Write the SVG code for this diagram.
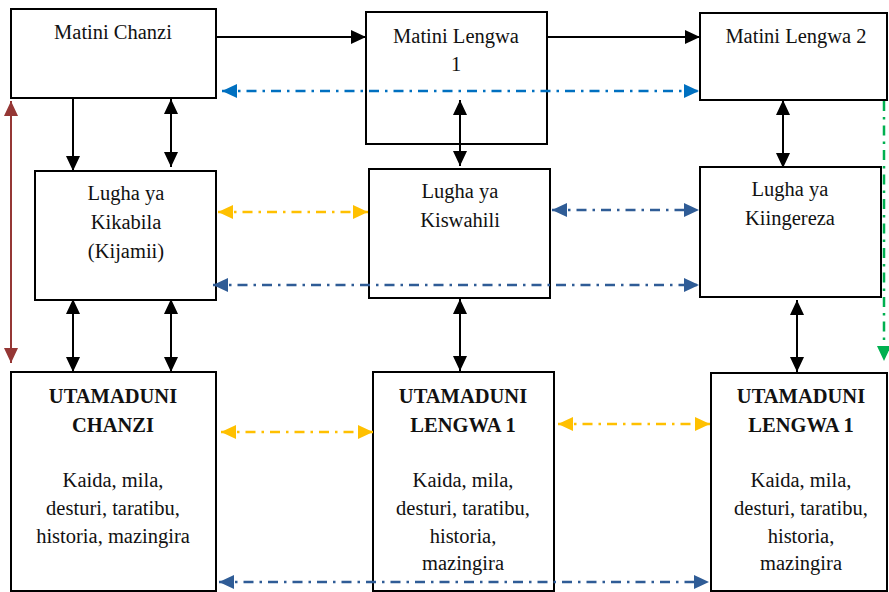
<svg xmlns="http://www.w3.org/2000/svg" width="889" height="592" viewBox="0 0 889 592" font-family="Liberation Serif, Times New Roman, serif">
<style>
.box{fill:#fff;stroke:#000;stroke-width:2}
text{font-size:20.5px;fill:#111;text-anchor:middle}
.b{font-weight:bold}
.k{fill:none;stroke:#000;stroke-width:2}
.dd{fill:none;stroke-width:2.5;stroke-dasharray:10 6 2.5 6}
</style>
<defs>
<marker id="mk" markerUnits="userSpaceOnUse" markerWidth="15" markerHeight="14" refX="15" refY="7" orient="auto-start-reverse"><path d="M0,0L15,7L0,14z" fill="#000"/></marker>
<marker id="mr" markerUnits="userSpaceOnUse" markerWidth="15" markerHeight="14" refX="15" refY="7" orient="auto-start-reverse"><path d="M0,0L15,7L0,14z" fill="#953735"/></marker>
<marker id="mg" markerUnits="userSpaceOnUse" markerWidth="15" markerHeight="14" refX="15" refY="7" orient="auto-start-reverse"><path d="M0,0L15,7L0,14z" fill="#00B050"/></marker>
<marker id="my" markerUnits="userSpaceOnUse" markerWidth="15" markerHeight="14" refX="15" refY="7" orient="auto-start-reverse"><path d="M0,0L15,7L0,14z" fill="#FFC000"/></marker>
<marker id="mb1" markerUnits="userSpaceOnUse" markerWidth="15" markerHeight="14" refX="15" refY="7" orient="auto-start-reverse"><path d="M0,0L15,7L0,14z" fill="#0070C0"/></marker>
<marker id="mb2" markerUnits="userSpaceOnUse" markerWidth="15" markerHeight="14" refX="15" refY="7" orient="auto-start-reverse"><path d="M0,0L15,7L0,14z" fill="#2F5C96"/></marker>
</defs>
<rect width="889" height="592" fill="#fff"/>
<g id="matini-chanzi"><rect class="box" x="11" y="9" width="205" height="89"/><text x="113" y="39">Matini Chanzi</text></g>
<g id="matini-lengwa-1"><rect class="box" x="366" y="12" width="181" height="132"/><text x="456" y="43">Matini Lengwa</text><text x="456" y="71">1</text></g>
<g id="matini-lengwa-2"><rect class="box" x="700" y="13" width="187" height="87"/><text x="796" y="43">Matini Lengwa 2</text></g>
<g id="lugha-kikabila"><rect class="box" x="35" y="171" width="181" height="129"/><text x="126" y="200">Lugha ya</text><text x="126" y="229">Kikabila</text><text x="126" y="258">(Kijamii)</text></g>
<g id="lugha-kiswahili"><rect class="box" x="369" y="169" width="181" height="129"/><text x="460" y="198">Lugha ya</text><text x="460" y="227">Kiswahili</text></g>
<g id="lugha-kiingereza"><rect class="box" x="700" y="167" width="181" height="130"/><text x="790" y="196">Lugha ya</text><text x="790" y="225">Kiingereza</text></g>
<g id="utamaduni-chanzi"><rect class="box" x="11" y="372" width="205" height="219"/><text class="b" x="113" y="403">UTAMADUNI</text><text class="b" x="113" y="432">CHANZI</text><text x="113" y="487">Kaida, mila,</text><text x="113" y="515">desturi, taratibu,</text><text x="113" y="543">historia, mazingira</text></g>
<g id="utamaduni-lengwa-1a"><rect class="box" x="373" y="372" width="181" height="219"/><text class="b" x="463" y="403">UTAMADUNI</text><text class="b" x="463" y="432">LENGWA 1</text><text x="463" y="487">Kaida, mila,</text><text x="463" y="515">desturi, taratibu,</text><text x="463" y="543">historia,</text><text x="463" y="570">mazingira</text></g>
<g id="utamaduni-lengwa-1b"><rect class="box" x="711" y="373" width="176" height="218"/><text class="b" x="801" y="403">UTAMADUNI</text><text class="b" x="801" y="432">LENGWA 1</text><text x="801" y="487">Kaida, mila,</text><text x="801" y="515">desturi, taratibu,</text><text x="801" y="543">historia,</text><text x="801" y="570">mazingira</text></g>
<g id="connectors">
<line class="k" x1="216" y1="37" x2="366" y2="37" marker-end="url(#mk)"/>
<line class="k" x1="547" y1="37" x2="700" y2="37" marker-end="url(#mk)"/>
<line class="k" x1="73" y1="98" x2="73" y2="171" marker-end="url(#mk)"/>
<line class="k" x1="171" y1="99" x2="171" y2="167" marker-start="url(#mk)" marker-end="url(#mk)"/>
<line class="k" x1="460" y1="100" x2="460" y2="166" marker-start="url(#mk)" marker-end="url(#mk)"/>
<line class="k" x1="783" y1="100" x2="783" y2="168" marker-start="url(#mk)" marker-end="url(#mk)"/>
<line class="k" x1="73" y1="299" x2="73" y2="372" marker-start="url(#mk)" marker-end="url(#mk)"/>
<line class="k" x1="171" y1="299" x2="171" y2="372" marker-start="url(#mk)" marker-end="url(#mk)"/>
<line class="k" x1="460" y1="299" x2="460" y2="371" marker-start="url(#mk)" marker-end="url(#mk)"/>
<line class="k" x1="797" y1="300" x2="797" y2="372" marker-start="url(#mk)" marker-end="url(#mk)"/>
<line x1="11" y1="101" x2="11" y2="363" stroke="#953735" stroke-width="2" marker-start="url(#mr)" marker-end="url(#mr)"/>
<line class="dd" x1="884" y1="101" x2="884" y2="361" stroke="#00B050" marker-end="url(#mg)"/>
<line class="dd" x1="222" y1="91" x2="699" y2="91" stroke="#0070C0" marker-start="url(#mb1)" marker-end="url(#mb1)"/>
<line class="dd" x1="218" y1="212" x2="368" y2="212" stroke="#FFC000" marker-start="url(#my)" marker-end="url(#my)"/>
<line class="dd" x1="552" y1="210" x2="699" y2="210" stroke="#2F5C96" marker-start="url(#mb2)" marker-end="url(#mb2)"/>
<line class="dd" x1="213" y1="285" x2="699" y2="285" stroke="#2F5C96" marker-start="url(#mb2)" marker-end="url(#mb2)"/>
<line class="dd" x1="221" y1="432" x2="373" y2="432" stroke="#FFC000" marker-start="url(#my)" marker-end="url(#my)"/>
<line class="dd" x1="558" y1="424" x2="710" y2="424" stroke="#FFC000" marker-start="url(#my)" marker-end="url(#my)"/>
<line class="dd" x1="219" y1="582" x2="709" y2="582" stroke="#2F5C96" marker-start="url(#mb2)" marker-end="url(#mb2)"/>
</g>
</svg>
